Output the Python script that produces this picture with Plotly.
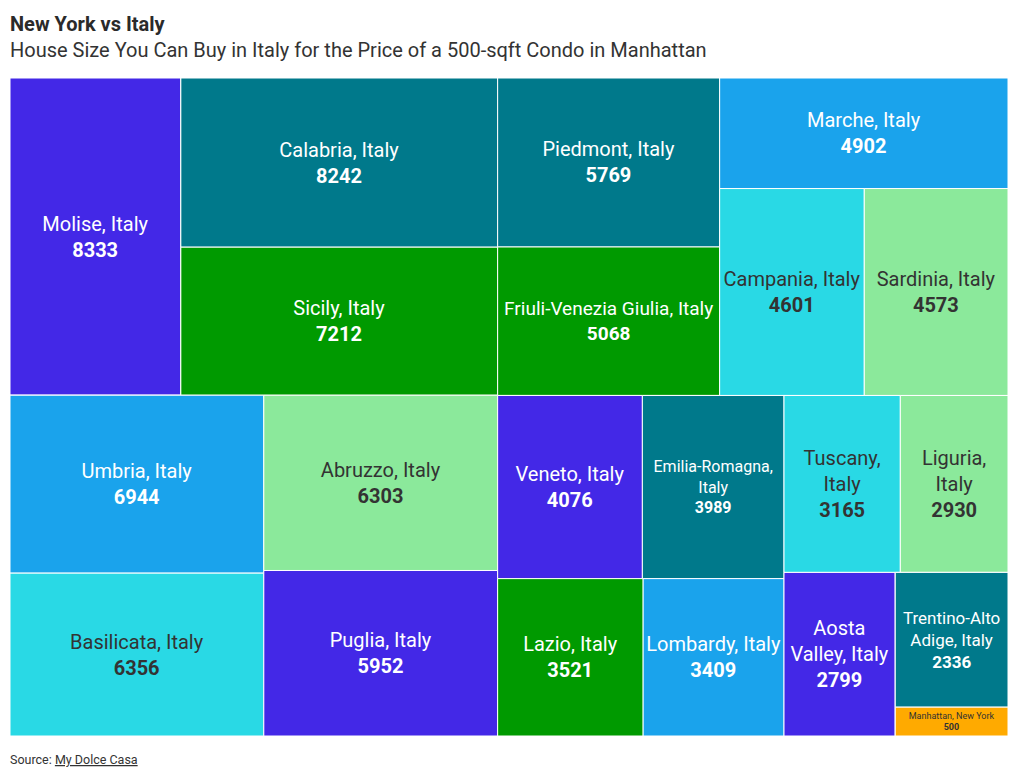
import plotly.graph_objects as go

# ---- data ----
regions = [
    "Molise, Italy", "Calabria, Italy", "Sicily, Italy", "Umbria, Italy",
    "Basilicata, Italy", "Abruzzo, Italy", "Puglia, Italy", "Piedmont, Italy",
    "Friuli-Venezia Giulia, Italy", "Marche, Italy", "Campania, Italy",
    "Sardinia, Italy", "Veneto, Italy", "Emilia-Romagna, Italy", "Lazio, Italy",
    "Lombardy, Italy", "Tuscany, Italy", "Liguria, Italy", "Aosta Valley, Italy",
    "Trentino-Alto Adige, Italy", "Manhattan, New York",
]
sqft = [8333, 8242, 7212, 6944, 6356, 6303, 5952, 5769, 5068, 4902, 4601,
        4573, 4076, 3989, 3521, 3409, 3165, 2930, 2799, 2336, 500]

# displayed label (line breaks where the tile wraps)
display = {
    "Emilia-Romagna, Italy": "Emilia-Romagna,<br>Italy",
    "Tuscany, Italy": "Tuscany,<br>Italy",
    "Liguria, Italy": "Liguria,<br>Italy",
    "Aosta Valley, Italy": "Aosta<br>Valley, Italy",
    "Trentino-Alto Adige, Italy": "Trentino-Alto<br>Adige, Italy",
}

palette = ["#4328E7", "#00798B", "#009A00", "#1AA3EC", "#29D9E5", "#8BE99B"]
highlight = "#FFAA00"
dark_text = "#333333"

font_size = {
    "Emilia-Romagna, Italy": 16,
    "Trentino-Alto Adige, Italy": 17,
    "Friuli-Venezia Giulia, Italy": 19,
    "Manhattan, New York": 9,
}

# ---- tiling structure (guillotine cuts of the reference layout) ----
layout_tree = [
    ("L", ""),
    ("LT", "L"),
    ("Molise, Italy", "LT"),
    ("CalSic", "LT"),
    ("Calabria, Italy", "CalSic"),
    ("Sicily, Italy", "CalSic"),
    ("LB", "L"),
    ("UmbBas", "LB"),
    ("Umbria, Italy", "UmbBas"),
    ("Basilicata, Italy", "UmbBas"),
    ("AbrPug", "LB"),
    ("Abruzzo, Italy", "AbrPug"),
    ("Puglia, Italy", "AbrPug"),
    ("R", ""),
    ("RT", "R"),
    ("PieFri", "RT"),
    ("Piedmont, Italy", "PieFri"),
    ("Friuli-Venezia Giulia, Italy", "PieFri"),
    ("Mar", "RT"),
    ("Marche, Italy", "Mar"),
    ("CamSar", "Mar"),
    ("Campania, Italy", "CamSar"),
    ("Sardinia, Italy", "CamSar"),
    ("RB", "R"),
    ("BA", "RB"),
    ("VenEmi", "BA"),
    ("Veneto, Italy", "VenEmi"),
    ("Emilia-Romagna, Italy", "VenEmi"),
    ("LazLom", "BA"),
    ("Lazio, Italy", "LazLom"),
    ("Lombardy, Italy", "LazLom"),
    ("BB", "RB"),
    ("TusLig", "BB"),
    ("Tuscany, Italy", "TusLig"),
    ("Liguria, Italy", "TusLig"),
    ("AosTM", "BB"),
    ("Aosta Valley, Italy", "AosTM"),
    ("TreMan", "AosTM"),
    ("Trentino-Alto Adige, Italy", "TreMan"),
    ("Manhattan, New York", "TreMan"),
]

value_of = dict(zip(regions, sqft))
color_of = {}
for i, r in enumerate(regions):
    color_of[r] = highlight if r.startswith("Manhattan") else palette[i % len(palette)]

ids, labels, parents, values, colors, templates, tcolors, tsizes = [], [], [], [], [], [], [], []
for node, parent in layout_tree:
    ids.append(node)
    parents.append(parent)
    if node in value_of:
        labels.append(display.get(node, node))
        values.append(value_of[node])
        c = color_of[node]
        colors.append(c)
        templates.append("%{label}<br><b>%{value:.0f}</b>")
        tcolors.append(dark_text if c in ("#29D9E5", "#8BE99B", highlight) else "#FFFFFF")
        tsizes.append(font_size.get(node, 20))
    else:
        labels.append(" ")
        values.append(0)
        colors.append("#FFFFFF")
        templates.append(" ")
        tcolors.append("#FFFFFF")
        tsizes.append(10)

fig = go.Figure(go.Treemap(
    ids=ids,
    labels=labels,
    parents=parents,
    values=values,
    branchvalues="remainder",
    sort=False,
    tiling=dict(packing="slice-dice", pad=0),
    marker=dict(colors=colors, line=dict(color="#FFFFFF", width=1),
                pad=dict(t=0, l=0, r=0, b=0), depthfade=False),
    pathbar=dict(visible=False),
    texttemplate=templates,
    textposition="middle center",
    textfont=dict(family="Roboto", color=tcolors, size=tsizes),
    hoverinfo="skip",
))

H = 658.0
def py(p):
    return (736 - p) / H

fig.update_layout(
    width=1020, height=778,
    margin=dict(l=10, r=12, t=78, b=42),
    paper_bgcolor="#FFFFFF",
    font=dict(family="Roboto", color=dark_text),
    annotations=[
        dict(text="<b>New York vs Italy</b>", x=-0.002, y=py(24), xref="paper", yref="paper",
             xanchor="left", yanchor="middle", showarrow=False,
             font=dict(size=20, color="#2A2A2A", family="Roboto")),
        dict(text="House Size You Can Buy in Italy for the Price of a 500-sqft Condo in Manhattan",
             x=-0.002, y=py(50), xref="paper", yref="paper", xanchor="left", yanchor="middle",
             showarrow=False, font=dict(size=20, color="#333333", family="Roboto")),
        dict(text="Source: <u>My Dolce Casa</u>", x=-0.002, y=py(760), xref="paper", yref="paper",
             xanchor="left", yanchor="middle", showarrow=False,
             font=dict(size=12.5, color="#333333", family="Roboto")),
    ],
)

fig.write_html("out.html", config={"displayModeBar": False},
               post_script="document.body.style.margin='0';")
